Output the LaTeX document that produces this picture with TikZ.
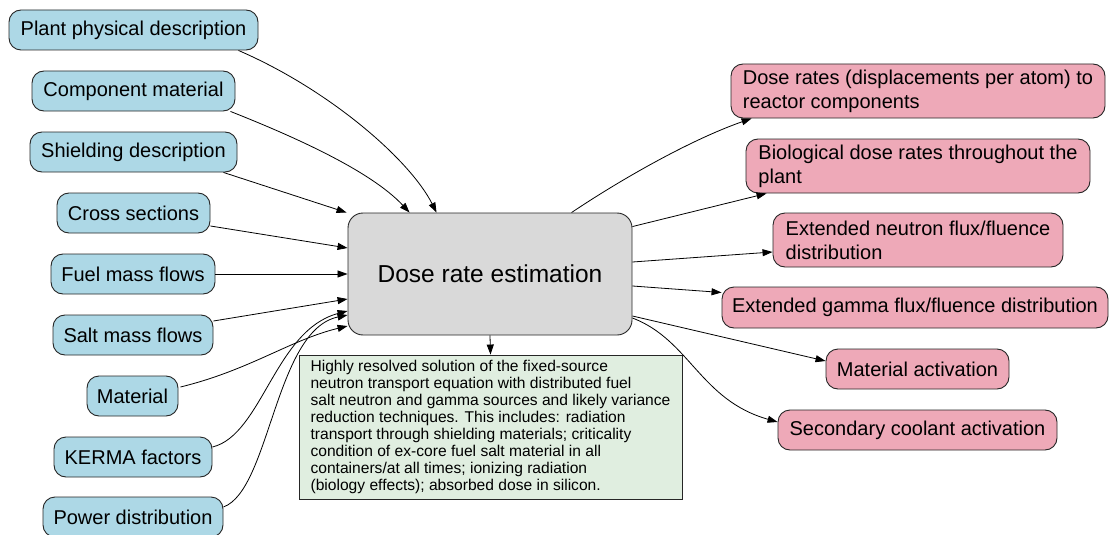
\documentclass[tikz,border=0pt]{standalone}
\usepackage{fontspec}
\setmainfont{Liberation Sans}
\usetikzlibrary{arrows.meta,calc}
\definecolor{blu}{HTML}{ADD8E6}
\definecolor{pnk}{HTML}{EEA9B8}
\definecolor{gry}{HTML}{D9D9D9}
\definecolor{grn}{HTML}{E0EEE0}
\begin{document}
\begin{tikzpicture}[x=1pt,y=-1pt,
 inp/.style={draw=black!85, fill=blu, rounded corners=12pt, line width=0.9pt, minimum height=40pt, inner sep=0pt, font=\fontsize{20}{24}\selectfont},
 outp/.style={draw=black!85, fill=pnk, rounded corners=12pt, line width=0.9pt, inner sep=0pt, font=\fontsize{20}{24}\selectfont, align=left},
 mainbox/.style={draw=black!85, fill=gry, rounded corners=15pt, line width=0.9pt, inner sep=0pt, font=\fontsize{24.5}{29}\selectfont},
 notebox/.style={draw=black!85, fill=grn, line width=0.9pt, inner sep=0pt, align=left, font=\fontsize{15.6}{17}\selectfont},
 edge/.style={-{Triangle[length=10pt,width=7pt]}, line width=0.8pt}
]
\useasboundingbox (0,0) rectangle (1109,535);

% inputs
\node[inp, minimum width=249pt] (plant) at (133.5,30) {Plant physical description};
\node[inp, minimum width=203pt] (comp) at (133.5,91) {Component material};
\node[inp, minimum width=207pt] (shield) at (133.5,152) {Shielding description};
\node[inp, minimum width=153pt] (cross) at (133.5,213) {Cross sections};
\node[inp, minimum width=164pt] (fuel) at (133,274) {Fuel mass flows};
\node[inp, minimum width=160pt] (salt) at (133,335) {Salt mass flows};
\node[inp, minimum width=91pt] (mat) at (132.5,396) {Material};
\node[inp, minimum width=158pt] (kerma) at (133,457) {KERMA factors};
\node[inp, minimum width=180pt] (power) at (133,517) {Power distribution};

% centre
\node[mainbox, minimum width=284pt, minimum height=122pt] (c) at (490,274) {Dose rate estimation};
\node[notebox, minimum width=383pt, minimum height=144pt] (note) at (490.5,427) {Highly resolved solution of the fixed-source\\neutron transport equation with distributed fuel\\salt neutron and gamma sources and likely variance\\reduction techniques. This includes: radiation\\transport through shielding materials; criticality\\condition of ex-core fuel salt material in all\\containers/at all times; ionizing radiation\\(biology effects); absorbed dose in silicon.};

% outputs
\node[outp, minimum width=374pt, minimum height=54pt] (dose) at (918,91) {Dose rates (displacements per atom) to\\reactor components};
\node[outp, minimum width=344pt, minimum height=54pt] (bio) at (918,166) {Biological dose rates throughout the\\plant};
\node[outp, minimum width=290pt, minimum height=54pt] (neut) at (918,240) {Extended neutron flux/fluence\\distribution};
\node[outp, minimum width=386pt, minimum height=41pt] (gam) at (915,307.5) {Extended gamma flux/fluence distribution};
\node[outp, minimum width=183pt, minimum height=40pt] (mact) at (917.5,369) {Material activation};
\node[outp, minimum width=279pt, minimum height=40pt] (sec) at (917.5,430) {Secondary coolant activation};

% input edges
\draw[edge] ($(plant.south east)+(-20,0)$) .. controls (330,90) and (410,160) .. ($(c.north west)+(89,0)$);
\draw[edge] ($(comp.south east)+(-5,0)$) .. controls (290,135) and (370,170) .. ($(c.north west)+(62,0)$);
\draw[edge] ($(shield.south east)+(-14,0)$) -- ($(c.north west)+(-1,0)$);
\draw[edge] ($(cross.east)+(0,13)$) -- ($(c.west)+(0,-26)$);
\draw[edge] (fuel.east) -- (c.west);
\draw[edge] ($(salt.east)+(0,-14)$) -- ($(c.west)+(0,25)$);
\draw[edge] ($(mat.east)+(2,-9)$) .. controls (250,370) and (290,340) .. ($(c.west)+(0,52)$);
\draw[edge] ($(kerma.east)+(0,-10)$) .. controls (262,435) and (275,330) .. ($(c.west)+(0,37)$);
\draw[edge] ($(power.east)+(0,-10)$) .. controls (270,490) and (275,330) .. ($(c.west)+(0,41)$);

% output edges
\draw[edge] ($(c.north west)+(224,0)$) .. controls (620,180) and (690,140) .. ($(dose.south west)+(21,0)$);
\draw[edge] ($(c.north east)+(0,14)$) -- ($(bio.south west)+(21,0)$);
\draw[edge] ($(c.east)+(0,-12)$) -- ($(neut.west)+(0,12)$);
\draw[edge] ($(c.east)+(0,12)$) -- ($(gam.west)+(0,-15)$);
\draw[edge] ($(c.east)+(0,42)$) -- ($(mact.west)+(0,-8)$);
\draw[edge] ($(c.east)+(0,44)$) .. controls (690,340) and (700,400) .. ($(sec.west)+(0,-8)$);
\draw[edge] (c.south) -- (note.north);
\end{tikzpicture}
\end{document}
